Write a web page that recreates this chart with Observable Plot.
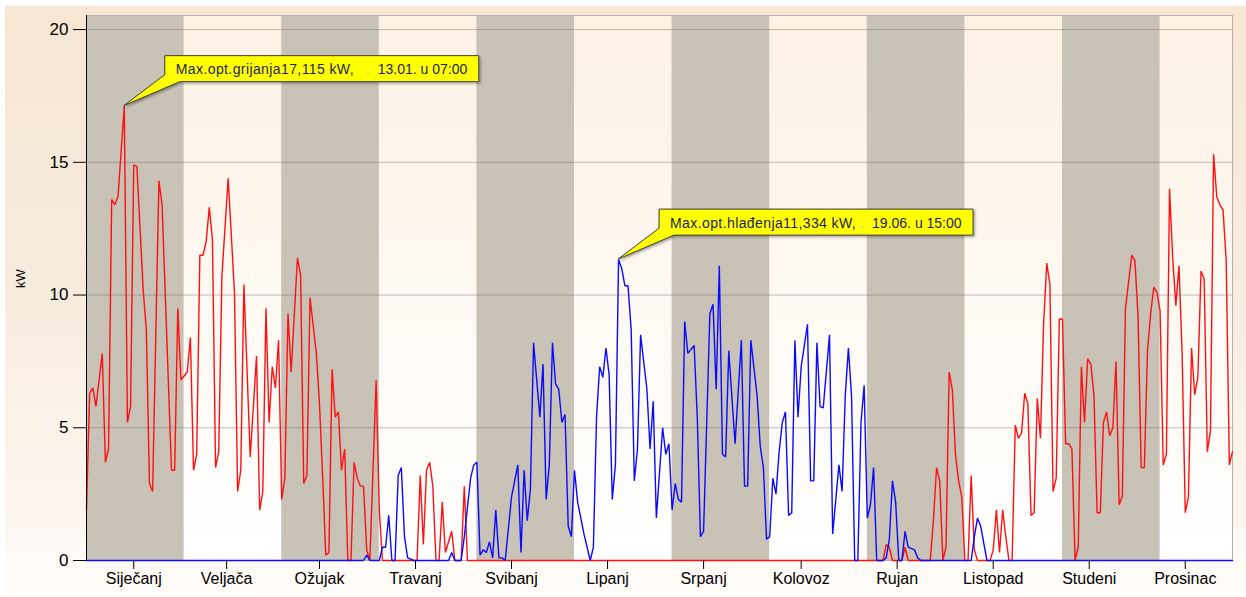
<!DOCTYPE html>
<html>
<head>
<meta charset="utf-8">
<script src="https://cdn.jsdelivr.net/npm/d3@7"></script>
<script src="https://cdn.jsdelivr.net/npm/@observablehq/plot@0.6"></script>
<style>
html, body { margin: 0; padding: 0; background: #ffffff; width: 1246px; height: 597px; overflow: hidden; }
#panel { position: absolute; left: 5px; top: 6px; width: 1241px; height: 591px;
  background: linear-gradient(to bottom, #f6e6d2 0%, #f8ecdf 50%, #fcf6ef 85%, #fffcf9 100%); }
#chart { position: absolute; left: 0; top: 0; }
</style>
</head>
<body>
<div id="panel"></div>
<div id="chart"></div>
<script>
// ---- Data -----------------------------------------------------------
const monthNames = ["Siječanj","Veljača","Ožujak","Travanj","Svibanj","Lipanj",
                    "Srpanj","Kolovoz","Rujan","Listopad","Studeni","Prosinac"];
const monthMid = [15, 44.5, 74, 104.5, 135, 165.5, 196, 227, 257.5, 288, 318.5, 349];
const bandStart = [0, 31, 62, 93, 124, 155, 186, 217, 248, 279, 310, 341];
const yTicks = [0, 5, 10, 15, 20];

// heating (grijanje), day of year -> kW
const heatDay = [0,1,2,3,5,6,7,8,9,10,12,13,14,15,16,18,19,20,21,23,24,27,28,29,30,32,33,34,35,36,37,38,39,40,41,42,43,45,47,48,49,50,52,54,55,56,57,58,59,60,61,62,63,64,65,67,68,69,70,71,73,74,75,76,77,78,79,80,81,82,83,84,85,86,87,88,89,90,92,93,94,105,106,107,108,109,110,111,112,113,114,116,117,119,120,121,253,254,255,256,259,260,261,268,269,270,271,272,273,274,275,276,277,278,279,280,281,282,283,287,288,289,290,291,292,293,294,295,296,297,298,299,300,301,302,303,304,305,306,307,308,309,310,311,312,313,314,315,316,317,318,319,320,321,322,323,324,325,326,327,328,329,330,332,333,334,335,336,337,338,339,340,341,342,343,344,345,346,347,348,349,350,351,352,353,354,355,356,357,358,359,360,361,362,363,364];
const heatKW = [1.9,6.3,6.5,5.8,7.8,3.7,4.2,13.6,13.4,13.7,17.115,5.2,5.8,14.9,14.85,10.2,8.7,2.9,2.6,14.3,13.4,3.4,3.4,9.5,6.8,7.1,8.4,3.4,4.0,11.5,11.5,12.0,13.3,12.1,3.5,4.1,10.7,14.4,10.1,2.6,3.4,10.4,3.9,7.7,1.9,2.6,9.5,5.2,7.3,6.5,8.3,2.3,3.1,9.3,7.1,11.4,10.75,2.9,3.2,9.9,7.8,5.9,3.2,0.2,0.3,7.2,5.4,5.6,3.4,4.2,0,0,3.7,3.1,2.8,2.8,0.4,0,6.8,1.9,0,0,3.2,0.6,3.4,3.7,2.8,0,0,2.2,0.3,1.1,0,0,2.8,0,0,0.6,0.5,0,0,0.5,0,0,1.5,3.5,3.0,0,0.5,7.1,6.45,4.0,3.0,2.4,0,0,3.2,0.4,0,0,0.4,1.9,0.3,1.9,0.9,0,0,5.1,4.6,4.8,6.3,5.9,1.7,1.8,6.1,4.6,8.9,11.2,10.4,2.6,3.1,9.1,9.1,4.4,4.4,4.2,0,0.5,7.3,5.2,7.6,7.4,6.2,1.8,1.8,5.2,5.6,4.7,5.0,7.5,2.1,2.4,9.5,11.5,11.3,9.2,3.5,3.5,7.9,9.3,10.3,10.1,9.4,3.6,4.0,14.0,11.4,9.6,11.1,7.8,1.8,2.4,8.0,6.25,6.9,10.9,10.6,4.1,4.9,15.3,13.7,13.4,13.2,11.3,3.6,4.1];

// cooling (hlađenje), day of year -> kW
const coolDay = [0,88,89,90,93,94,95,96,97,98,99,100,101,102,104,106,115,116,117,119,120,122,123,124,125,126,127,128,129,130,131,132,133,135,137,138,139,140,141,142,144,145,146,147,148,149,150,151,152,153,154,155,156,158,160,161,162,163,164,165,166,167,168,169,170,171,172,173,174,175,176,178,179,180,181,183,184,185,186,187,188,189,190,191,193,194,195,196,198,199,200,201,202,203,204,206,208,209,210,211,213,214,215,216,217,218,219,220,221,222,223,224,225,226,227,229,230,231,232,233,234,236,237,239,240,241,242,243,244,245,246,247,248,249,250,251,253,254,255,256,257,258,259,260,261,263,264,265,281,282,283,284,286,364];
const coolKW = [0,0,0.2,0,0,0.5,0.5,1.7,0,0,3.2,3.5,0.9,0.1,0,0,0,0.3,0,0,0.9,3.1,3.6,3.7,0.2,0.4,0.3,0.7,0.1,1.9,0.1,0.1,0,2.4,3.6,0.3,3.4,1.5,2.7,8.2,5.4,7.4,2.3,3.6,8.2,6.65,6.45,5.2,5.5,1.3,0.9,3.4,2.2,1.0,0,0.5,5.4,7.3,6.9,8.0,7.0,2.3,3.6,11.334,11.0,10.35,10.35,8.7,3.0,4.2,8.5,6.45,4.2,6.0,1.6,5.0,4.0,4.4,1.9,2.9,2.3,2.2,9.0,7.8,8.1,5.4,0.9,1.1,9.3,9.65,6.45,11.1,4.0,3.9,7.9,4.4,8.3,2.8,2.8,8.3,6.2,4.3,3.5,0.8,0.9,3.1,2.5,4.1,5.2,5.6,1.7,1.8,8.3,5.4,7.3,8.9,3.0,3.0,8.2,5.8,5.75,8.5,1.0,3.6,2.6,6.2,8.0,6.2,0,0,5.2,6.6,1.6,2.1,3.5,0,0,0.1,0.8,3.0,2.2,0,0,1.1,0.5,0.4,0.1,0,0,0.9,1.6,1.3,0,0];

// annotations
const heatPeak = {day: 12, kw: 17.115, label: "Max.opt.grijanja17,115 kW,", when: "13.01. u 07:00"};
const coolPeak = {day: 169, kw: 11.334, label: "Max.opt.hlađenja11,334 kW,", when: "19.06. u 15:00"};

// ---- Chart ----------------------------------------------------------
const xMax = 364, yMax = 20.53;
const darkBands = [0, 2, 4, 6, 8, 10];

function defs() {
  const d = d3.create("svg:defs");
  const g = d.append("linearGradient").attr("id", "lightGrad")
    .attr("x1", 0).attr("y1", 0).attr("x2", 0).attr("y2", 1);
  g.append("stop").attr("offset", "0%").attr("stop-color", "#fcf2e4");
  g.append("stop").attr("offset", "100%").attr("stop-color", "#ffffff");
  const s = d.append("filter").attr("id", "shadow").attr("x", "-5%").attr("y", "-20%").attr("width", "115%").attr("height", "160%");
  s.append("feDropShadow").attr("dx", 1.5).attr("dy", 1.5).attr("stdDeviation", 1).attr("flood-color", "#000").attr("flood-opacity", 0.35);
  return d.node();
}

function callout(p) {
  return (index, scales) => {
    const px = scales.x(p.day), py = scales.y(p.kw);
    const L = px + 41, T = py - 50, W = 314, H = 26, B = T + H;
    const g = d3.create("svg:g")
      .attr("font-family", "Liberation Sans, Arial, sans-serif")
      .attr("font-size", 14)
      .attr("text-anchor", "start");
    g.append("path")
      .attr("d", `M${px},${py}L${L},${B - 7}V${T}H${L + W}V${B}H${L + 15}Z`)
      .attr("fill", "#ffff00").attr("stroke", "#3c3c3c").attr("stroke-width", 1)
      .attr("stroke-linejoin", "round").attr("filter", "url(#shadow)");
    g.append("text").attr("x", L + 11).attr("y", T + 18.5).attr("fill", "#1e1e5a")
      .attr("letter-spacing", 0.4).text(p.label);
    g.append("text").attr("x", L + 201).attr("y", T + 18.5).attr("fill", "#c8c890").text(".");
    g.append("text").attr("x", L + 213).attr("y", T + 18.5).attr("fill", "#1e1e5a").text(p.when);
    return g.node();
  };
}

const chart = Plot.plot({
  width: 1246,
  height: 597,
  marginLeft: 86,
  marginRight: 14,
  marginTop: 15,
  marginBottom: 37,
  style: {background: "transparent", fontFamily: "Liberation Sans, Arial, sans-serif", color: "#000", overflow: "visible"},
  x: {domain: [0, xMax]},
  y: {domain: [0, yMax]},
  marks: [
    defs,
    Plot.frame({fill: "url(#lightGrad)"}),
    Plot.rect(darkBands, {x1: i => bandStart[i], x2: i => Math.min(bandStart[i] + 31, xMax), fill: "#c9c2b7"}),
    Plot.ruleY(yTicks.filter(v => v > 0), {stroke: "#6e6e6e", strokeOpacity: 0.45, strokeWidth: 1}),
    Plot.frame({stroke: "#b4b0aa"}),
    Plot.line(heatKW, {x: heatDay, y: heatKW, stroke: "#ff1010", strokeWidth: 1.4, strokeLinejoin: "miter"}),
    Plot.line(coolKW, {x: coolDay, y: coolKW, stroke: "#0a0aff", strokeWidth: 1.4, strokeLinejoin: "miter"}),
    Plot.ruleX([0], {stroke: "#000", strokeWidth: 1}),
    Plot.axisY({ticks: yTicks, tickSize: 13, tickPadding: 5, fontSize: 17, label: null, stroke: "#000"}),
    Plot.axisX({ticks: monthMid, tickFormat: d => monthNames[monthMid.indexOf(d)], tickSize: 9, tickPadding: 3, fontSize: 16, label: null, stroke: "#000"}),
    Plot.text(["kW"], {frameAnchor: "left", dx: -66, rotate: -90, fontSize: 13, fill: "#000"}),
    callout(heatPeak),
    callout(coolPeak)
  ]
});
document.getElementById("chart").appendChild(chart);
</script>
</body>
</html>
